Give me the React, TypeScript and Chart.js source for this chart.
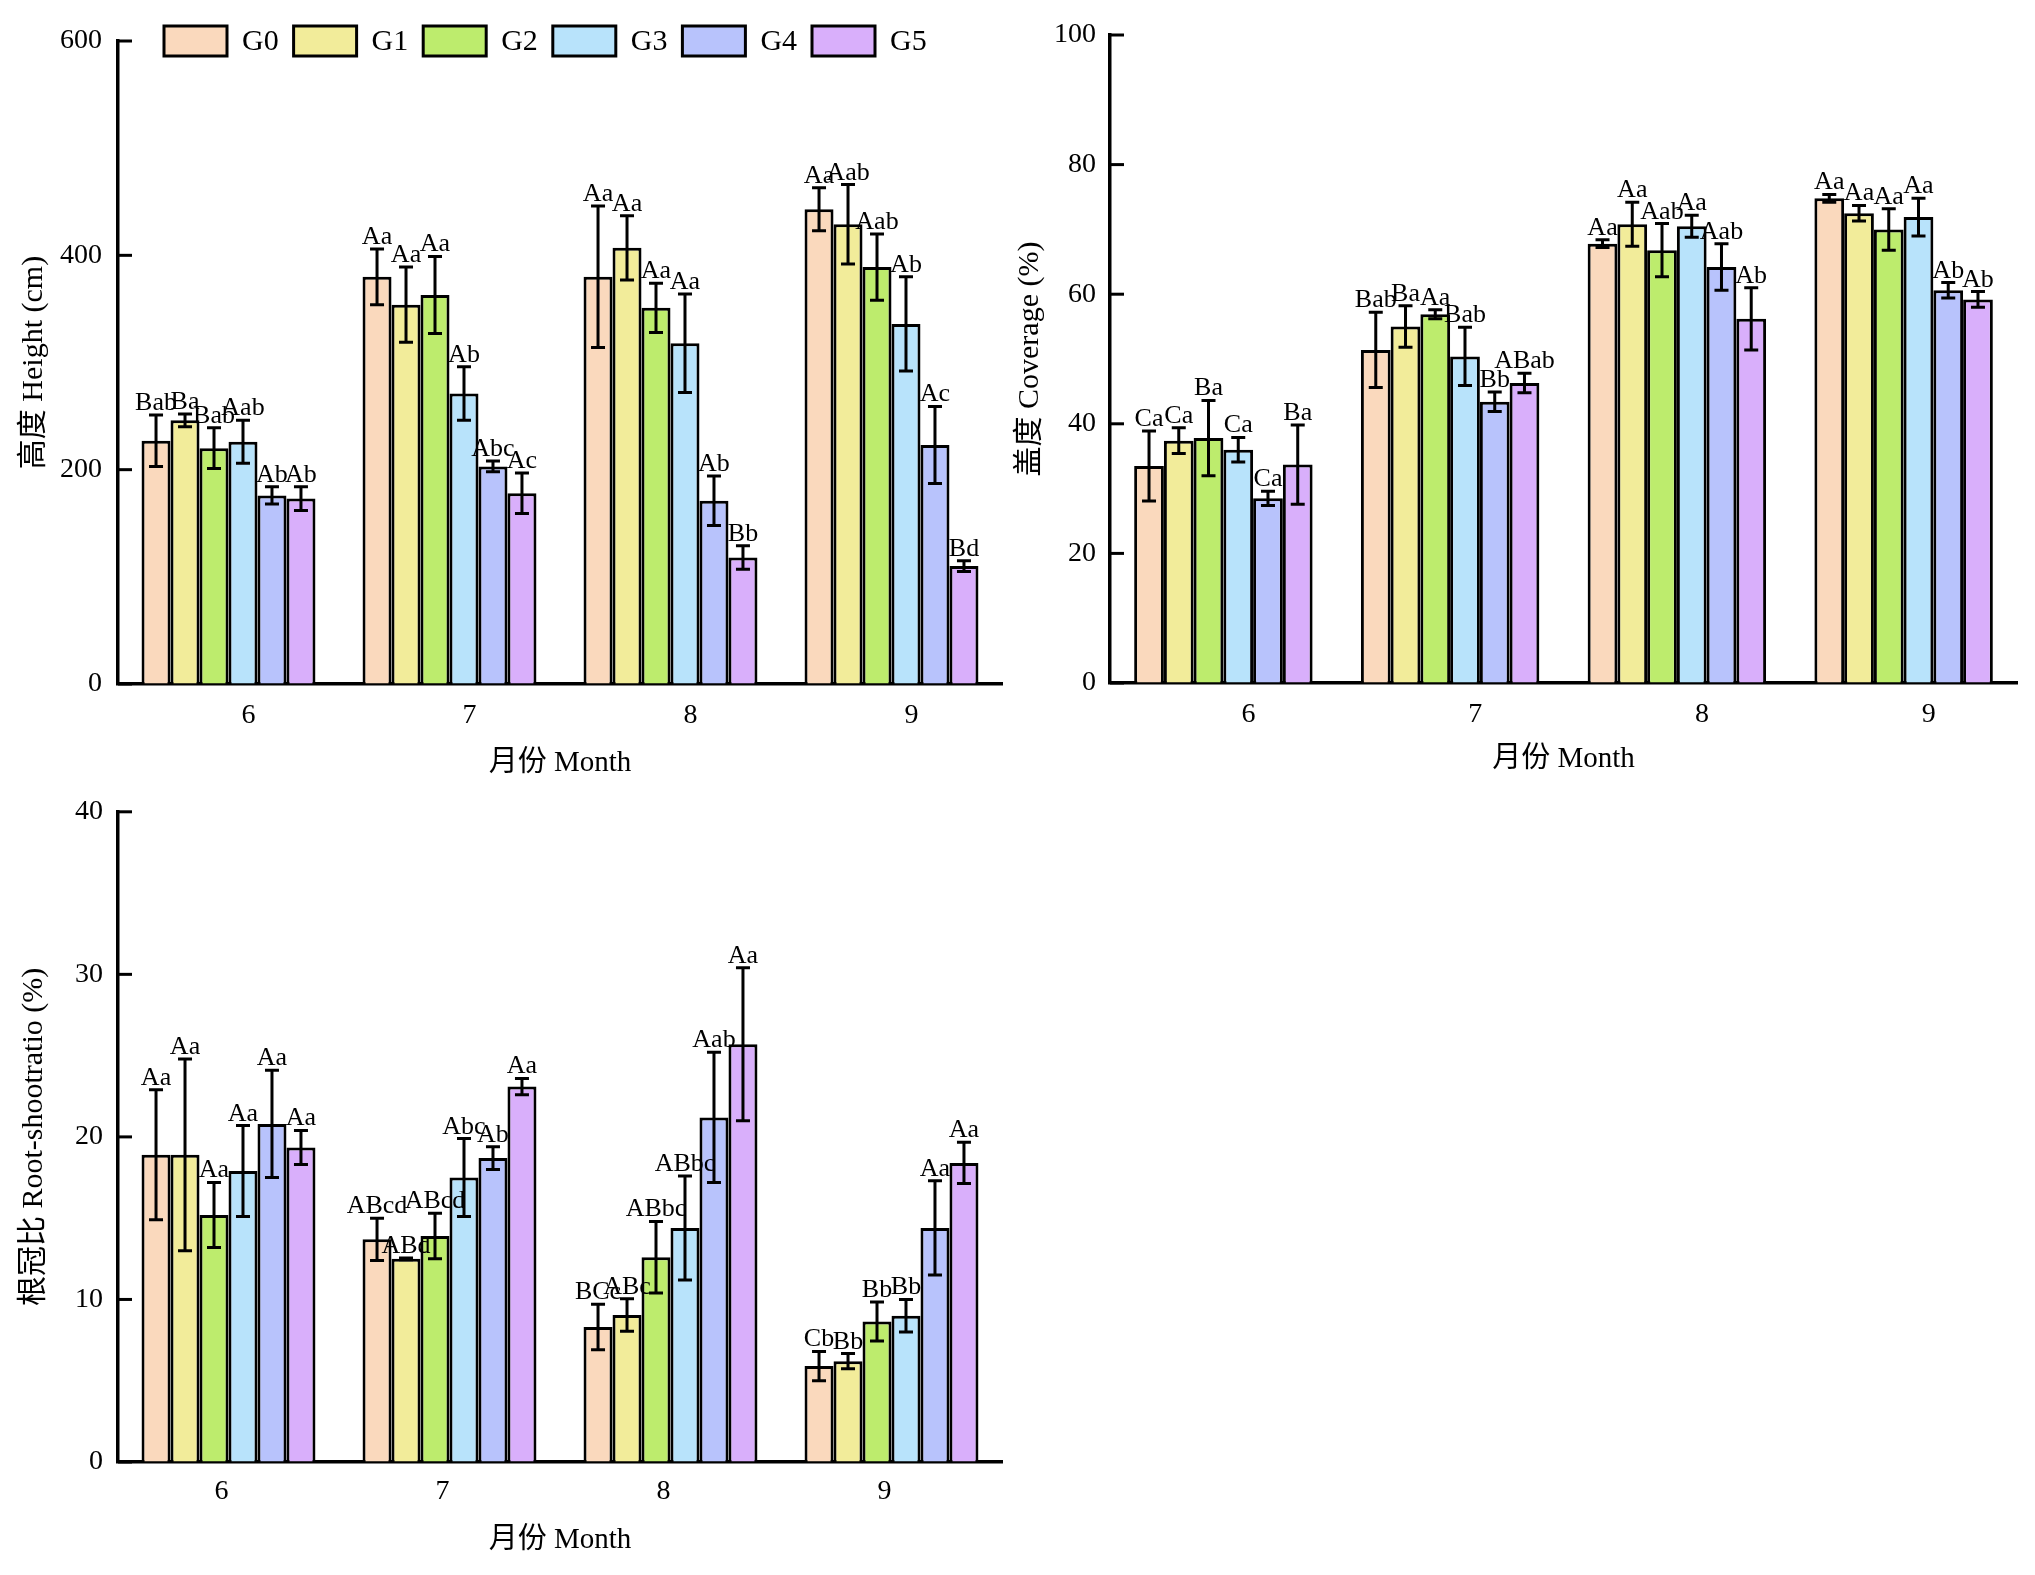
import React, { useEffect, useRef } from 'react';
import Chart from 'chart.js/auto';

const FONT = '"Liberation Serif", "Times New Roman", "Noto Sans CJK SC", serif';

const months = ['6', '7', '8', '9'];
const groups = ['G0', 'G1', 'G2', 'G3', 'G4', 'G5'];
const groupColors = ['#FAD9BD', '#F2EC9A', '#BDEC6D', '#B8E3FB', '#B8C3FC', '#D9AFFB'];

// 高度 Height (cm): one row per group, one value per month
const heightMean = [
  [227, 380, 380, 443],
  [246, 354, 407, 429],
  [220, 363, 351, 389],
  [226, 271, 318, 336],
  [176, 203, 171, 223],
  [173, 178, 118, 110],
];
const heightErr = [
  [24, 26, 66, 20],
  [6, 35, 30, 37],
  [19, 36, 23, 31],
  [20, 25, 46, 44],
  [8, 5, 23, 36],
  [11, 19, 11, 5],
];
const heightLetters = [
  ['Bab', 'Aa', 'Aa', 'Aa'],
  ['Ba', 'Aa', 'Aa', 'Aab'],
  ['Bab', 'Aa', 'Aa', 'Aab'],
  ['Aab', 'Ab', 'Aa', 'Ab'],
  ['Ab', 'Abc', 'Ab', 'Ac'],
  ['Ab', 'Ac', 'Bb', 'Bd'],
];

// 盖度 Coverage (%)
const coverMean = [
  [33.5, 51.4, 67.8, 74.8],
  [37.4, 55.0, 70.8, 72.5],
  [37.8, 56.9, 66.8, 70.0],
  [36.0, 50.4, 70.5, 71.9],
  [28.5, 43.4, 64.2, 60.6],
  [33.7, 46.3, 56.2, 59.2],
];
const coverErr = [
  [5.4, 5.8, 0.6, 0.6],
  [2.0, 3.2, 3.4, 1.2],
  [5.8, 0.7, 4.1, 3.2],
  [1.9, 4.5, 1.7, 2.9],
  [1.1, 1.5, 3.6, 1.2],
  [6.1, 1.5, 4.8, 1.2],
];
const coverLetters = [
  ['Ca', 'Bab', 'Aa', 'Aa'],
  ['Ca', 'Ba', 'Aa', 'Aa'],
  ['Ba', 'Aa', 'Aab', 'Aa'],
  ['Ca', 'Bab', 'Aa', 'Aa'],
  ['Ca', 'Bb', 'Aab', 'Ab'],
  ['Ba', 'ABab', 'Ab', 'Ab'],
];

// 根冠比 Root-shootratio (%)
const ratioMean = [
  [18.9, 13.7, 8.3, 5.9],
  [18.9, 12.5, 9.05, 6.2],
  [15.2, 13.9, 12.6, 8.65],
  [17.9, 17.5, 14.4, 9.0],
  [20.8, 18.7, 21.2, 14.4],
  [19.35, 23.1, 25.7, 18.4],
];
const ratioErr = [
  [4.0, 1.3, 1.4, 0.9],
  [5.9, 0.05, 1.0, 0.47],
  [2.0, 1.4, 2.2, 1.2],
  [2.8, 2.4, 3.2, 1.0],
  [3.3, 0.7, 4.0, 2.9],
  [1.05, 0.5, 4.7, 1.27],
];
const ratioLetters = [
  ['Aa', 'ABcd', 'BCc', 'Cb'],
  ['Aa', 'ABd', 'ABc', 'Bb'],
  ['Aa', 'ABcd', 'ABbc', 'Bb'],
  ['Aa', 'Abc', 'ABbc', 'Bb'],
  ['Aa', 'Ab', 'Aab', 'Aa'],
  ['Aa', 'Aa', 'Aa', 'Aa'],
];

Chart.defaults.font.family = FONT;
Chart.defaults.color = '#000';

// error bars, significance letters, inward y ticks and the legend row
const barExtras = {
  id: 'barExtras',
  afterDatasetsDraw(chart: any) {
    const { ctx } = chart;
    const y = chart.scales.y;
    ctx.save();
    ctx.strokeStyle = '#000';
    ctx.fillStyle = '#000';
    ctx.lineWidth = 3;
    ctx.font = `26px ${FONT}`;
    ctx.textAlign = 'center';
    ctx.textBaseline = 'alphabetic';
    chart.data.datasets.forEach((ds: any, di: number) => {
      chart.getDatasetMeta(di).data.forEach((bar: any, i: number) => {
        const v = ds.data[i];
        const e = ds.errors[i];
        const top = y.getPixelForValue(v + e);
        const bot = y.getPixelForValue(v - e);
        ctx.beginPath();
        ctx.moveTo(bar.x, top);
        ctx.lineTo(bar.x, bot);
        ctx.moveTo(bar.x - 7, top);
        ctx.lineTo(bar.x + 7, top);
        ctx.moveTo(bar.x - 7, bot);
        ctx.lineTo(bar.x + 7, bot);
        ctx.stroke();
        ctx.fillText(ds.letters[i], bar.x, top - 5);
      });
    });
    ctx.restore();
  },
  afterDraw(chart: any, _args: any, opts: any) {
    const { ctx, chartArea } = chart;
    const y = chart.scales.y;
    ctx.save();
    ctx.strokeStyle = '#000';
    ctx.lineWidth = 3;
    y.ticks.forEach((t: any) => {
      const py = y.getPixelForValue(t.value);
      ctx.beginPath();
      ctx.moveTo(chartArea.left, py);
      ctx.lineTo(chartArea.left + 14, py);
      ctx.stroke();
    });
    if (opts && opts.legend) {
      chart.data.datasets.forEach((ds: any, i: number) => {
        const bx = chartArea.left + 46 + i * 129.6;
        const by = chartArea.top - 15;
        ctx.fillStyle = ds.backgroundColor;
        ctx.fillRect(bx, by, 63, 30);
        ctx.strokeRect(bx, by, 63, 30);
        ctx.fillStyle = '#000';
        ctx.font = `30px ${FONT}`;
        ctx.textAlign = 'left';
        ctx.textBaseline = 'middle';
        ctx.fillText(ds.label, bx + 78, by + 16);
      });
    }
    ctx.restore();
  },
};

interface BarPanelProps {
  left: number;
  top: number;
  width: number;
  height: number;
  means: number[][];
  errors: number[][];
  letters: string[][];
  yMax: number;
  yStep: number;
  yTitle: string;
  pad: { top: number; right: number };
  yWidth: number;
  xHeight: number;
  yTickPad: number;
  xTickPad: number;
  yTitlePad: number;
  xTitlePad: number;
  labelOffset: number;
  legend?: boolean;
}

function BarPanel(p: BarPanelProps) {
  const canvasRef = useRef<HTMLCanvasElement>(null);

  useEffect(() => {
    if (!canvasRef.current) return;
    const chart = new Chart(canvasRef.current, {
      type: 'bar',
      data: {
        labels: months,
        datasets: groups.map((g, i) => ({
          label: g,
          data: p.means[i],
          errors: p.errors[i],
          letters: p.letters[i],
          backgroundColor: groupColors[i],
          borderColor: '#000',
          borderWidth: 3,
          barPercentage: 1,
          categoryPercentage: 0.787,
        })) as any,
      },
      options: {
        responsive: false,
        animation: false,
        layout: { padding: { left: 0, right: p.pad.right, top: p.pad.top, bottom: 0 } },
        plugins: {
          legend: { display: false },
          tooltip: { enabled: false },
          barExtras: { legend: !!p.legend },
        } as any,
        scales: {
          x: {
            grid: { display: true, drawOnChartArea: false, drawTicks: false },
            border: { display: true, color: '#000', width: 3.5 },
            ticks: { font: { size: 28 }, padding: p.xTickPad, labelOffset: p.labelOffset },
            title: {
              display: true,
              text: '月份 Month',
              font: { size: 29 },
              padding: { top: 0, bottom: p.xTitlePad },
            },
            afterFit: (s: any) => {
              s.height = p.xHeight;
            },
          },
          y: {
            min: 0,
            max: p.yMax,
            grid: { display: true, drawOnChartArea: false, drawTicks: false },
            border: { display: true, color: '#000', width: 3.5 },
            ticks: { stepSize: p.yStep, font: { size: 28 }, padding: p.yTickPad },
            title: {
              display: true,
              text: p.yTitle,
              font: { size: 30 },
              padding: { top: p.yTitlePad, bottom: 0 },
            },
            afterFit: (s: any) => {
              s.width = p.yWidth;
            },
          },
        },
      },
      plugins: [barExtras as any],
    });
    return () => chart.destroy();
  }, []);

  return (
    <canvas
      ref={canvasRef}
      width={p.width}
      height={p.height}
      style={{ position: 'absolute', left: p.left, top: p.top, width: p.width, height: p.height }}
    />
  );
}

export default function App() {
  return (
    <div style={{ position: 'absolute', left: 0, top: 0, width: 2035, height: 1575, background: '#fff' }}>
      <BarPanel
        left={0}
        top={0}
        width={1030}
        height={790}
        means={heightMean}
        errors={heightErr}
        letters={heightLetters}
        yMax={600}
        yStep={200}
        yTitle="高度 Height (cm)"
        pad={{ top: 41, right: 28 }}
        yWidth={118}
        xHeight={106}
        yTickPad={16}
        xTickPad={15}
        yTitlePad={16}
        xTitlePad={9}
        labelOffset={20}
        legend
      />
      <BarPanel
        left={1000}
        top={0}
        width={1035}
        height={790}
        means={coverMean}
        errors={coverErr}
        letters={coverLetters}
        yMax={100}
        yStep={20}
        yTitle="盖度 Coverage (%)"
        pad={{ top: 35, right: 18 }}
        yWidth={110}
        xHeight={107}
        yTickPad={14}
        xTickPad={15}
        yTitlePad={12}
        xTitlePad={13}
        labelOffset={25}
      />
      <BarPanel
        left={0}
        top={780}
        width={1030}
        height={795}
        means={ratioMean}
        errors={ratioErr}
        letters={ratioLetters}
        yMax={40}
        yStep={10}
        yTitle="根冠比 Root-shootratio (%)"
        pad={{ top: 28, right: 28 }}
        yWidth={118}
        xHeight={113}
        yTickPad={15}
        xTickPad={13}
        yTitlePad={16}
        xTitlePad={17}
        labelOffset={-7}
      />
    </div>
  );
}
